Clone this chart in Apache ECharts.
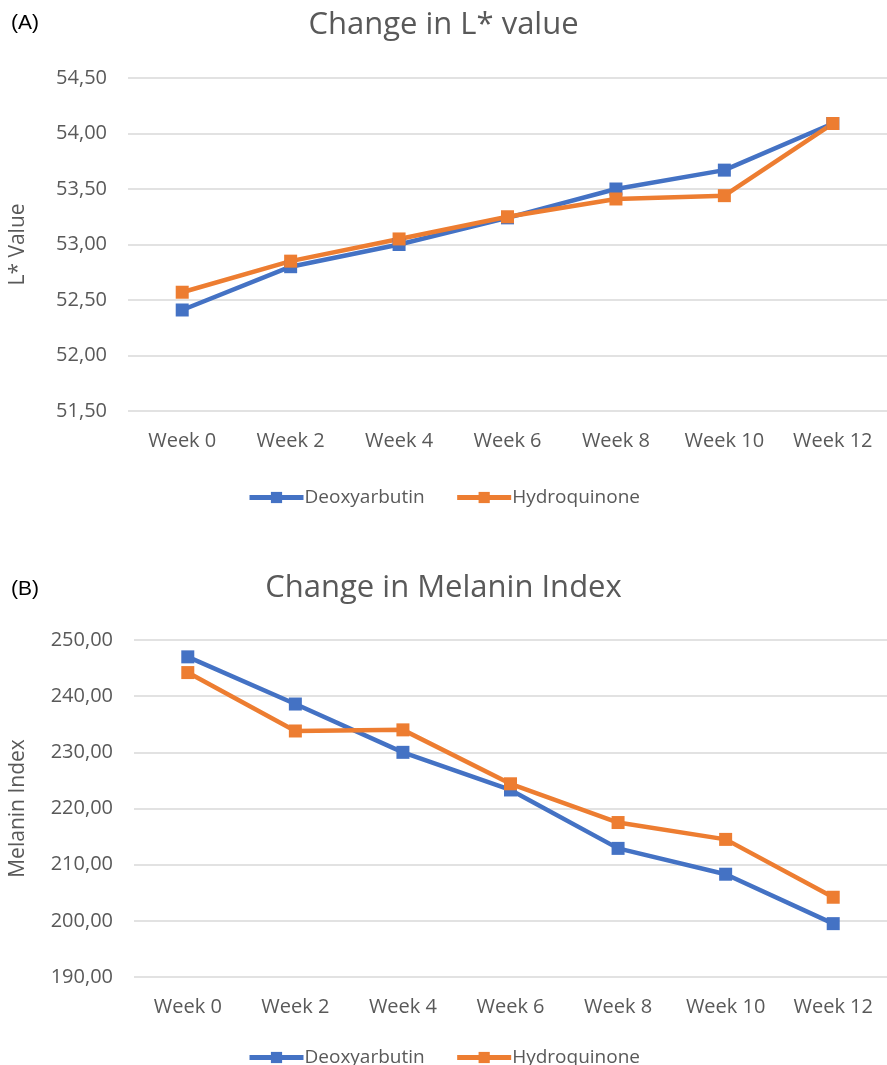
<!DOCTYPE html>
<html><head><meta charset="utf-8">
<script src="https://cdn.jsdelivr.net/npm/echarts@6/dist/echarts.min.js"></script>
<style>html,body{margin:0;padding:0;background:#fff}#c{width:887px;height:1065px}</style>
</head><body><div id="c"></div>
<script>
const categories = ['Week 0','Week 2','Week 4','Week 6','Week 8','Week 10','Week 12'];
const seriesNames = ['Deoxyarbutin','Hydroquinone'];
const lDeoxy = [52.41, 52.80, 53.00, 53.24, 53.50, 53.67, 54.09];
const lHydro = [52.57, 52.85, 53.05, 53.25, 53.41, 53.44, 54.09];
const mDeoxy = [247.0, 238.6, 230.0, 223.3, 212.9, 208.3, 199.5];
const mHydro = [244.2, 233.8, 234.0, 224.4, 217.5, 214.5, 204.2];
const titleA = 'Change in L* value';
const titleB = 'Change in Melanin Index';
const yNameA = 'L* Value';
const yNameB = 'Melanin Index';

const FONT = '"Open Sans","Noto Sans",sans-serif';
const grey = '#595959';
const colors = ['#4472C4', '#ED7D31'];
const fmt = v => v.toFixed(2).replace('.', ',');

function xAxis(gi){
  return {type:'category', gridIndex:gi, data:categories, boundaryGap:true,
    axisLine:{show:false}, axisTick:{show:false},
    axisLabel:{color:grey, fontSize:20, fontFamily:FONT, margin:20}};
}
function yAxis(gi, min, max, interval, name, gap){
  return {type:'value', gridIndex:gi, min, max, interval, name,
    nameLocation:'middle', nameGap:gap, nameRotate:90,
    nameTextStyle:{color:grey, fontSize:21, fontFamily:FONT},
    axisLine:{show:false}, axisTick:{show:false},
    axisLabel:{color:grey, fontSize:20, fontFamily:FONT, margin:21, formatter:fmt},
    splitLine:{lineStyle:{color:'#d9d9d9', width:1.5}}};
}
function line(name, data, gi, ci){
  return {name, type:'line', xAxisIndex:gi, yAxisIndex:gi, data,
    symbol:'rect', symbolSize:13, showAllSymbol:true,
    lineStyle:{width:4.5, color:colors[ci]}, itemStyle:{color:colors[ci]}};
}
function legend(top){
  return {data:seriesNames, left:'center', top, itemWidth:54, itemHeight:14, itemGap:30,
    lineStyle:{width:5}, textStyle:{color:grey, fontSize:19, fontFamily:FONT, padding:[0,0,0,-4]}};
}

const chart = echarts.init(document.getElementById('c'), null, {renderer:'canvas'});
chart.setOption({
  animation:false,
  title:[
    {text:titleA, left:'center', top:5, textStyle:{color:grey, fontSize:31, fontWeight:'normal', fontFamily:FONT}},
    {text:titleB, left:'center', top:568, textStyle:{color:grey, fontSize:31, fontWeight:'normal', fontFamily:FONT}},
    {text:'(A)', left:6, top:8, textStyle:{color:'#000', fontSize:21, fontWeight:'normal', fontFamily:'"Liberation Sans",Arial,sans-serif'}},
    {text:'(B)', left:6, top:574, textStyle:{color:'#000', fontSize:21, fontWeight:'normal', fontFamily:'"Liberation Sans",Arial,sans-serif'}}
  ],
  legend:[legend(483), legend(1043)],
  grid:[
    {left:121, right:0, top:78, height:333},
    {left:127, right:0, top:640, height:337}
  ],
  xAxis:[xAxis(0), xAxis(1)],
  yAxis:[yAxis(0, 51.5, 54.5, 0.5, yNameA, 99), yAxis(1, 190, 250, 10, yNameB, 105)],
  series:[
    line(seriesNames[0], lDeoxy, 0, 0), line(seriesNames[1], lHydro, 0, 1),
    line(seriesNames[0], mDeoxy, 1, 0), line(seriesNames[1], mHydro, 1, 1)
  ]
});
</script></body></html>
